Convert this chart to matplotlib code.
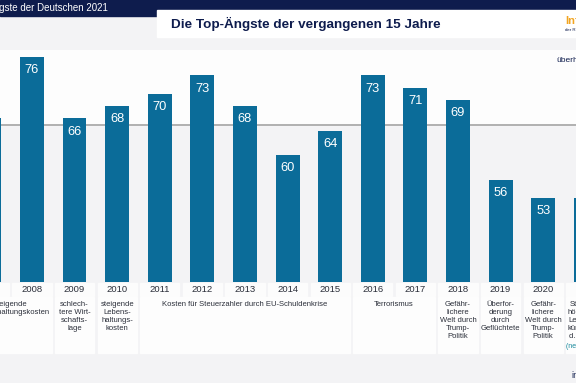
import matplotlib
matplotlib.use('Agg')
import matplotlib.pyplot as plt
from matplotlib.patches import Rectangle

plt.rcParams['font.family'] = ['Liberation Sans', 'DejaVu Sans']

# data
years = [2007, 2008, 2009, 2010, 2011, 2012, 2013, 2014, 2015, 2016, 2017, 2018, 2019, 2020, 2021]
values = [66, 76, 66, 68, 70, 73, 68, 60, 64, 73, 71, 69, 56, 53, 53]
topic_start = [2007, 2009, 2010, 2011, 2016, 2018, 2019, 2020, 2021]
topic_end = [2008, 2009, 2010, 2015, 2017, 2018, 2019, 2020, 2021]
topic_labels = [
    'steigende\nLebenshaltungskosten',
    'schlech-\ntere Wirt-\nschafts-\nlage',
    'steigende\nLebens-\nhaltungs-\nkosten',
    'Kosten für Steuerzahler durch EU-Schuldenkrise',
    'Terrorismus',
    'Gefähr-\nlichere\nWelt durch\nTrump-\nPolitik',
    'Überfor-\nderung\ndurch\nGeflüchtete',
    'Gefähr-\nlichere\nWelt durch\nTrump-\nPolitik',
    'Steuerer-\nhöhungen/\nLeistungs-\nkürzungen\nd. Corona',
]
header_text = 'Die Ängste der Deutschen 2021'
title_text = 'Die Top-Ängste der vergangenen 15 Jahre'
ref_line = 65

navy = '#0e1c4d'
bar_blue = '#0b6c99'
bg_gray = '#f3f3f5'
txt_dark = '#2b2f3a'

W, H = 576, 383
fig = plt.figure(figsize=(W / 100, H / 100), dpi=100)
fig.patch.set_facecolor(bg_gray)


def fx(px):
    return px / W


def fy(py):
    return 1 - py / H


# header band and title box
fig.patches.append(Rectangle((0, fy(16)), 1, 16 / H, transform=fig.transFigure,
                             color=navy, zorder=0))
fig.patches.append(Rectangle((fx(157), fy(37)), 1, 27 / H, transform=fig.transFigure,
                             color='white', zorder=1))
fig.text(fx(108), fy(8), header_text, color='white', fontsize=7, ha='right', va='center')
fig.text(fx(171), fy(24), title_text, color=navy, fontsize=9.7, fontweight='bold',
         ha='left', va='center')
fig.text(fx(565), fy(21), 'Infocenter', color='#f2a521', fontsize=8, fontweight='bold',
         ha='left', va='center')
fig.text(fx(565), fy(29.5), 'der R+V Versicherung', color=navy, fontsize=3.2,
         ha='left', va='center')
fig.text(fx(556), fy(61), 'überhaupt', color=navy, fontsize=6, ha='left', va='center')
fig.text(fx(571), fy(375), 'infocenter', color=navy, fontsize=6.5, ha='left', va='center')

# bar chart
top_px, bot_px = 50, 282
ax = fig.add_axes([0, fy(bot_px), 1, (bot_px - top_px) / H])
ax.set_facecolor('none')
ax.set_xlim(2007.25, 2020.77)
ax.set_ylim(39.35, 77.14)
ax.axis('off')
ax.axhspan(ref_line, 80, color='#fdfdfd', zorder=0)
ax.axhline(ref_line, color='#9c9c9c', lw=1.1, zorder=1)
ax.bar(years, values, width=0.56, bottom=0, color=bar_blue, zorder=2)
for yr, v in zip(years, values):
    ax.text(yr, v - 2.15, str(v), color='white', fontsize=9.3, ha='center', va='center',
            zorder=3)

# table below the bars (x in years, y in axes fraction)
axh = bot_px - top_px


def ay(py):
    return (bot_px - py) / axh


tr = ax.get_xaxis_transform()
half = 0.46
for yr in years:
    ax.add_patch(Rectangle((yr - half, ay(296)), 2 * half, (296 - 283) / axh,
                           transform=tr, color='#fcfcfc', clip_on=False, zorder=2))
    ax.text(yr, ay(289.5), str(yr), transform=tr, color=txt_dark, fontsize=6.8,
            ha='center', va='center', clip_on=False, zorder=3)

for s, e, lab in zip(topic_start, topic_end, topic_labels):
    ax.add_patch(Rectangle((s - half, ay(353)), (e - s) + 2 * half, (353 - 297) / axh,
                           transform=tr, color='#fdfdfd', clip_on=False, zorder=2))
    ax.text((s + e) / 2, ay(301.5), lab, transform=tr, color=txt_dark, fontsize=5.5,
            ha='center', va='top', linespacing=1.15, clip_on=False, zorder=3)
ax.text(2021, ay(346.5), '(neu erfragt)', transform=tr, color='#14879a', fontsize=5,
        ha='center', va='center', clip_on=False, zorder=3)

fig.savefig('out.png', dpi=100, facecolor=fig.get_facecolor())
